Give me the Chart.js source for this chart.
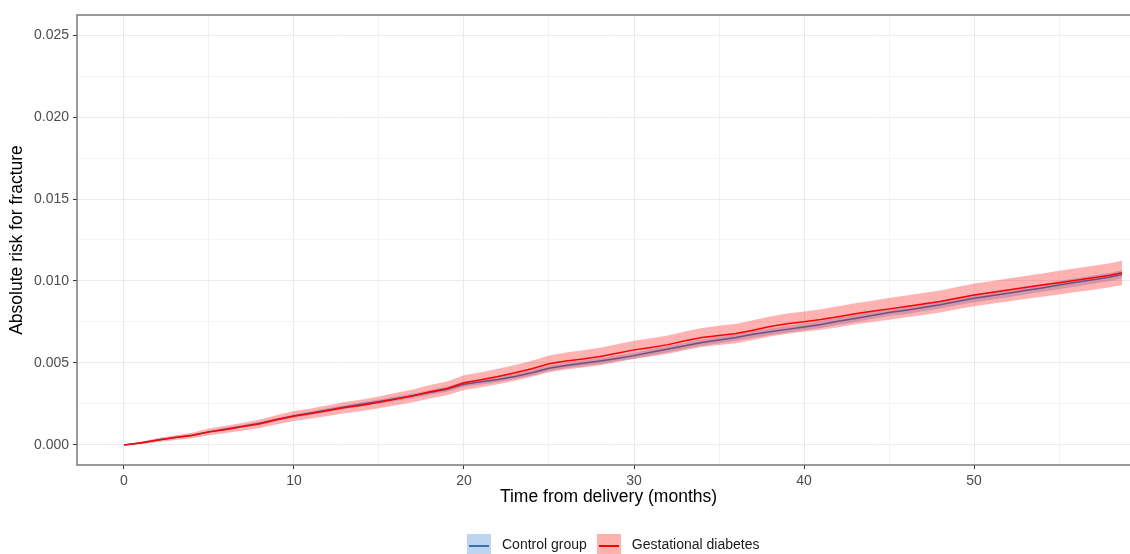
<!DOCTYPE html>
<html>
<head>
<meta charset="utf-8">
<script src="https://cdn.jsdelivr.net/npm/chart.js@4"></script>
<style>
  html, body { margin: 0; padding: 0; background: #fff; }
  #wrap { position: relative; width: 1130px; height: 554px; overflow: hidden; }
  #holder { position: absolute; left: 0; top: 0; width: 1140px; height: 554px; }
  #legend { position: absolute; left: 467px; top: 534px; font-family: "Liberation Sans", Arial, sans-serif; font-size: 14px; color: #1a1a1a; display: flex; align-items: center; }
  .key { width: 24px; height: 20px; position: relative; margin-right: 11px; }
  .key i { position: absolute; left: 2px; right: 2px; top: 11px; height: 2px; }
  .lab { margin-right: 10px; line-height: 20px; }
</style>
</head>
<body>
<div id="wrap">
  <div id="holder"><canvas id="myChart" width="1140" height="554"></canvas></div>
  <div id="legend">
    <span class="key" style="background:#bdd5ee"><i style="background:#3a6fb0"></i></span><span class="lab">Control group</span>
    <span class="key" style="background:#ffb0b0"><i style="background:#ff0000"></i></span><span class="lab">Gestational diabetes</span>
  </div>
</div>
<script>
// months from delivery
let months = [0,1,2,3,4,5,6,7,8,9,10,11,12,13,14,15,16,17,18,19,20,21,22,23,24,25,26,27,28,29,
  30,31,32,33,34,35,36,37,38,39,40,41,42,43,44,45,46,47,48,49,50,51,52,53,54,55,56,57,58,58.7];

// gestational diabetes: estimate and 95% band
let gdm = [0,0.00012,0.00030,0.00045,0.00058,0.00080,0.00095,0.00112,0.00130,0.00155,
  0.00177,0.00192,0.00210,0.00228,0.00242,0.00260,0.00280,0.00300,0.00325,0.00345,
  0.00380,0.00398,0.00418,0.00440,0.00465,0.00495,0.00512,0.00525,0.00540,0.00560,
  0.00580,0.00595,0.00612,0.00635,0.00655,0.00668,0.00680,0.00700,0.00722,0.00740,
  0.00752,0.00765,0.00782,0.00800,0.00815,0.00830,0.00845,0.00860,0.00875,0.00895,
  0.00915,0.00930,0.00945,0.00960,0.00975,0.00990,0.01005,0.01020,0.01035,0.01050];
let gdmLow = [0,0.00004,0.00018,0.00030,0.00041,0.00060,0.00073,0.00088,0.00104,0.00127,
  0.00147,0.00161,0.00177,0.00194,0.00207,0.00224,0.00242,0.00261,0.00284,0.00303,
  0.00335,0.00352,0.00371,0.00392,0.00416,0.00444,0.00460,0.00473,0.00487,0.00506,
  0.00525,0.00539,0.00556,0.00578,0.00597,0.00609,0.00621,0.00640,0.00661,0.00678,
  0.00690,0.00702,0.00718,0.00736,0.00750,0.00764,0.00779,0.00793,0.00808,0.00827,
  0.00846,0.00861,0.00875,0.00890,0.00904,0.00918,0.00933,0.00947,0.00962,0.00976];
let gdmHigh = [0,0.00020,0.00042,0.00060,0.00075,0.00100,0.00117,0.00136,0.00156,0.00183,
  0.00207,0.00223,0.00243,0.00262,0.00277,0.00296,0.00318,0.00339,0.00366,0.00387,
  0.00425,0.00444,0.00465,0.00488,0.00514,0.00546,0.00564,0.00577,0.00593,0.00614,
  0.00635,0.00651,0.00668,0.00692,0.00713,0.00727,0.00739,0.00760,0.00783,0.00802,
  0.00814,0.00828,0.00846,0.00864,0.00880,0.00896,0.00911,0.00927,0.00942,0.00963,
  0.00984,0.00999,0.01015,0.01030,0.01046,0.01062,0.01077,0.01093,0.01108,0.01124];

// control group: estimate and 95% band
let ctrl = [0,0.00013,0.00030,0.00046,0.00060,0.00080,0.00097,0.00115,0.00132,0.00155,
  0.00177,0.00195,0.00213,0.00232,0.00248,0.00265,0.00282,0.00300,0.00320,0.00340,
  0.00370,0.00385,0.00400,0.00418,0.00440,0.00468,0.00485,0.00498,0.00512,0.00528,
  0.00545,0.00565,0.00585,0.00605,0.00625,0.00640,0.00655,0.00675,0.00690,0.00705,
  0.00720,0.00735,0.00755,0.00772,0.00790,0.00808,0.00822,0.00838,0.00855,0.00875,
  0.00895,0.00910,0.00925,0.00942,0.00958,0.00975,0.00992,0.01008,0.01025,0.01040];
let ctrlLow = [0,0.00010,0.00026,0.00041,0.00054,0.00073,0.00089,0.00107,0.00123,0.00145,
  0.00166,0.00184,0.00201,0.00220,0.00236,0.00252,0.00269,0.00286,0.00306,0.00325,
  0.00355,0.00369,0.00384,0.00402,0.00423,0.00451,0.00468,0.00480,0.00494,0.00510,
  0.00527,0.00546,0.00566,0.00586,0.00605,0.00620,0.00635,0.00654,0.00669,0.00684,
  0.00699,0.00714,0.00733,0.00750,0.00768,0.00786,0.00799,0.00815,0.00832,0.00852,
  0.00871,0.00886,0.00901,0.00918,0.00934,0.00950,0.00967,0.00983,0.01000,0.01015];
let ctrlHigh = [0,0.00016,0.00034,0.00051,0.00066,0.00087,0.00105,0.00123,0.00141,0.00165,
  0.00188,0.00206,0.00225,0.00244,0.00260,0.00278,0.00295,0.00314,0.00334,0.00355,
  0.00385,0.00401,0.00416,0.00434,0.00457,0.00485,0.00502,0.00516,0.00530,0.00546,
  0.00563,0.00584,0.00604,0.00624,0.00645,0.00660,0.00675,0.00696,0.00711,0.00726,
  0.00741,0.00756,0.00777,0.00794,0.00812,0.00830,0.00845,0.00861,0.00878,0.00898,
  0.00919,0.00934,0.00949,0.00966,0.00982,0.01000,0.01017,0.01033,0.01050,0.01065];

// axis ticks
let xTicks = [0,5,10,15,20,25,30,35,40,45,50,55];
let yTicks = [0,0.0025,0.005,0.0075,0.01,0.0125,0.015,0.0175,0.02,0.0225,0.025];

function pts(vals) {
    return months.map((m, i) => ({ x: m, y: vals[i] }));
}

function isMajorX(v) { return v % 10 === 0; }
function isMajorY(v) { return Math.round(v * 10000) % 50 === 0; }

// panel border like theme_bw
let panelBorder = {
    id: 'panelBorder',
    afterDraw(chart) {
        let a = chart.chartArea;
        let ctx = chart.ctx;
        ctx.save();
        ctx.strokeStyle = '#7a7a7a';
        ctx.lineWidth = 1.5;
        ctx.strokeRect(a.left, a.top, a.right - a.left, a.bottom - a.top);
        ctx.restore();
    }
};

let ribbon = { pointRadius: 0, borderWidth: 0, tension: 0 };

new Chart("myChart", {
    type: "line",
    data: {
        datasets: [
            { data: pts(gdm), borderColor: "#ff0000", borderWidth: 1.5, pointRadius: 0, fill: false, tension: 0 },
            Object.assign({ data: pts(gdmHigh), backgroundColor: "rgba(255,0,0,0.3)", fill: '+1' }, ribbon),
            Object.assign({ data: pts(gdmLow), fill: false }, ribbon),
            { data: pts(ctrl), borderColor: "#3a6fb0", borderWidth: 1.5, pointRadius: 0, fill: false, tension: 0 },
            Object.assign({ data: pts(ctrlHigh), backgroundColor: "rgba(150,190,232,0.6)", fill: '+1' }, ribbon),
            Object.assign({ data: pts(ctrlLow), fill: false }, ribbon)
        ]
    },
    options: {
        responsive: false,
        animation: false,
        events: [],
        layout: { padding: { top: 15, right: 0, left: 0, bottom: 0 } },
        plugins: { legend: { display: false }, tooltip: { enabled: false } },
        scales: {
            x: {
                type: 'linear',
                min: -2.76,
                max: 59.76,
                afterBuildTicks: s => { s.ticks = xTicks.map(v => ({ value: v })); },
                afterFit: s => { s.height = 89; },
                border: { display: false },
                grid: {
                    color: c => isMajorX(c.tick.value) ? '#ebebeb' : '#f4f4f4',
                    lineWidth: 1,
                    tickLength: 4,
                    tickColor: c => isMajorX(c.tick.value) ? '#333333' : 'rgba(0,0,0,0)'
                },
                ticks: {
                    autoSkip: false,
                    maxRotation: 0,
                    padding: 4,
                    color: '#4d4d4d',
                    font: { family: 'Liberation Sans', size: 14 },
                    callback: v => isMajorX(v) ? String(v) : ''
                },
                title: {
                    display: true,
                    text: 'Time from delivery (months)',
                    color: '#000',
                    font: { family: 'Liberation Sans', size: 17.5 },
                    padding: { top: 0, bottom: 46 }
                }
            },
            y: {
                min: -0.00122,
                max: 0.02622,
                afterBuildTicks: s => { s.ticks = yTicks.map(v => ({ value: v })); },
                afterFit: s => { s.width = 77; },
                border: { display: false },
                grid: {
                    color: c => isMajorY(c.tick.value) ? '#ebebeb' : '#f4f4f4',
                    lineWidth: 1,
                    tickLength: 4,
                    tickColor: c => isMajorY(c.tick.value) ? '#333333' : 'rgba(0,0,0,0)'
                },
                ticks: {
                    autoSkip: false,
                    padding: 4,
                    color: '#4d4d4d',
                    font: { family: 'Liberation Sans', size: 14 },
                    callback: v => isMajorY(v) ? v.toFixed(3) : ''
                },
                title: {
                    display: true,
                    text: 'Absolute risk for fracture',
                    color: '#000',
                    font: { family: 'Liberation Sans', size: 17.5 },
                    padding: { top: 7, bottom: 0 }
                }
            }
        }
    },
    plugins: [panelBorder]
});
</script>
</body>
</html>
